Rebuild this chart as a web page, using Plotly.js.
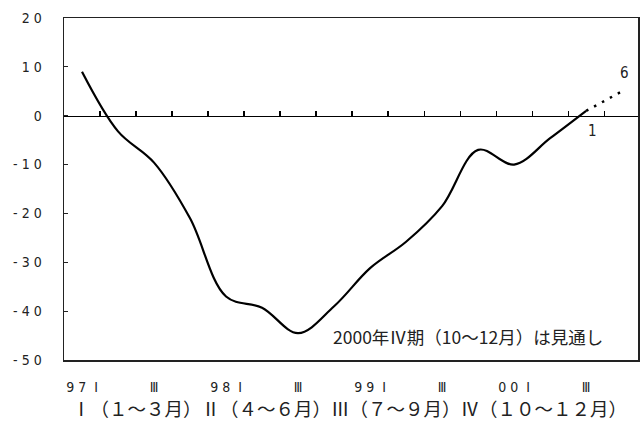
<!DOCTYPE html>
<html>
<head>
<meta charset="utf-8">
<script src="https://cdn.plot.ly/plotly-3.0.1.min.js"></script>
<style>
  html, body { margin: 0; padding: 0; background: #fff; }
  #chart { width: 640px; height: 422px; }
</style>
</head>
<body>
<div id="chart"></div>
<script>
// Quarterly values, 1997 Q1 .. 2000 Q3 (actual), then 2000 Q4 (outlook)
const quarters = ['97Q1','97Q2','97Q3','97Q4','98Q1','98Q2','98Q3','98Q4',
                  '99Q1','99Q2','99Q3','99Q4','00Q1','00Q2','00Q3','00Q4'];
const actualValues = [9, -3.2, -9.6, -21, -37, -39.3, -44.5, -39, -31.2, -25.8, -18.5, -7, -10, -4.6, 1];
const outlookValues = [1, 5];
const endLabels = ['1', '6'];
const xTickIndex = [0, 2, 4, 6, 8, 10, 12, 14];
const xTickText = ['9 7 &nbsp;Ⅰ', 'Ⅲ', '9 8 &nbsp;Ⅰ', 'Ⅲ', '9 9 &nbsp;Ⅰ', 'Ⅲ', '0 0 &nbsp;Ⅰ', 'Ⅲ'];
const yTicks = [20, 10, 0, -10, -20, -30, -40, -50];
const noteText = '2000年Ⅳ期（10～12月）は見通し';
const quarterNote = 'Ⅰ（１～３月）Ⅱ（４～６月）Ⅲ（７～９月）Ⅳ（１０～１２月）';

const xIdx = actualValues.map((_, i) => i);
const nActual = actualValues.length;
const outlookX = [nActual - 1, nActual];
const boundaryTicks = quarters.slice(0, quarters.length - 1).map((_, i) => i + 0.5);

const yMin = -50, yMax = 20;
const numFont = 'Liberation Sans Narrow, DejaVu Sans Condensed, Arial Narrow, sans-serif';
const jpFont = 'Noto Sans CJK JP, sans-serif';
const ink = '#222';

const traces = [
  {
    x: xIdx, y: actualValues, type: 'scatter', mode: 'lines',
    line: { color: '#000', width: 2.2, shape: 'spline', smoothing: 1 },
    hoverinfo: 'skip', showlegend: false
  },
  {
    x: outlookX, y: outlookValues, type: 'scatter', mode: 'lines',
    line: { color: '#000', width: 2.5, dash: '2.5px,6.5px' },
    hoverinfo: 'skip', showlegend: false
  },
  {
    // invisible trace to create the zero-line axis with quarter boundary ticks
    x: [boundaryTicks[0]], y: [0], xaxis: 'x2', yaxis: 'y',
    type: 'scatter', mode: 'markers', marker: { opacity: 0 },
    hoverinfo: 'skip', showlegend: false
  }
];

const layout = {
  width: 640, height: 422,
  margin: { l: 64, r: 2, t: 18, b: 62 },
  paper_bgcolor: '#fff', plot_bgcolor: '#fff',
  showlegend: false,
  xaxis: {
    range: [-0.5, 15.44],
    showgrid: false, zeroline: false,
    showline: true, linecolor: ink, linewidth: 1.5, mirror: true,
    tickmode: 'array', tickvals: xTickIndex, ticktext: xTickText,
    ticks: '', ticklabelstandoff: 14,
    tickfont: { family: numFont, size: 14, color: ink }
  },
  xaxis2: {
    overlaying: 'x', matches: 'x', anchor: 'free', position: (0 - yMin) / (yMax - yMin),
    side: 'top',
    range: [-0.5, 15.44],
    showgrid: false, zeroline: false,
    showline: true, linecolor: '#000', linewidth: 1.5,
    tickmode: 'array', tickvals: boundaryTicks, ticks: 'outside',
    ticklen: 5, tickwidth: 1.2, tickcolor: '#000', showticklabels: false
  },
  yaxis: {
    range: [yMin, yMax],
    showgrid: false, zeroline: false,
    showline: true, linecolor: ink, linewidth: 1.5, mirror: true,
    tickmode: 'array', tickvals: yTicks, ticktext: yTicks.map(v => String(v).split('').join(' ')),
    ticks: 'inside', ticklen: 4, tickwidth: 1, tickcolor: ink,
    ticklabelstandoff: 18,
    tickfont: { family: numFont, size: 14, color: ink }
  },
  annotations: [
    {
      xref: 'x', yref: 'y', x: outlookX[0], y: outlookValues[0],
      text: endLabels[0], showarrow: false, xshift: 6, yshift: -20,
      font: { family: numFont, size: 15, color: ink }
    },
    {
      xref: 'x', yref: 'y', x: outlookX[1], y: outlookValues[1],
      text: endLabels[1], showarrow: false, xshift: 2, yshift: 18,
      font: { family: numFont, size: 15, color: ink }
    },
    {
      xref: 'paper', yref: 'paper', x: 0.704, y: 0.07,
      text: noteText, showarrow: false, xanchor: 'center', yanchor: 'middle',
      font: { family: jpFont, size: 17.5, color: ink }
    },
    {
      xref: 'paper', yref: 'paper', x: 0.497, y: 0, yanchor: 'top', yshift: -33,
      text: quarterNote, showarrow: false, xanchor: 'center',
      font: { family: jpFont, size: 18.5, color: ink }
    }
  ]
};

Plotly.newPlot('chart', traces, layout, { staticPlot: true, displayModeBar: false });
</script>
</body>
</html>
